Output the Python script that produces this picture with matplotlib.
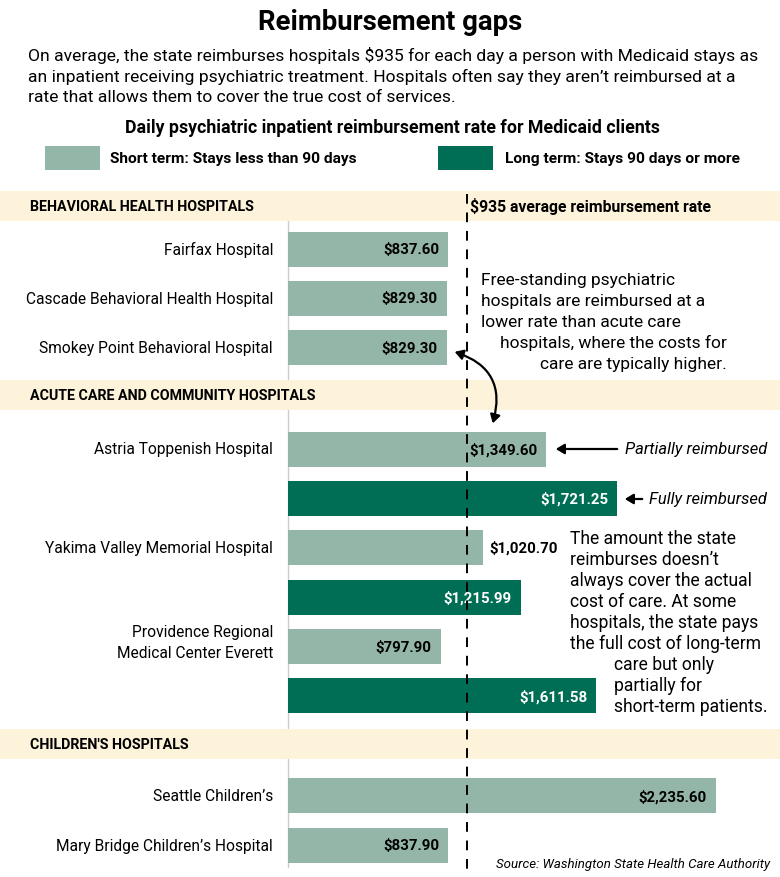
import matplotlib.pyplot as plt
from matplotlib.patches import FancyArrowPatch, Rectangle
from matplotlib.transforms import Affine2D

# data
hospitals = ['Fairfax Hospital', 'Cascade Behavioral Health Hospital',
             'Smokey Point Behavioral Hospital', 'Astria Toppenish Hospital',
             'Yakima Valley Memorial Hospital',
             'Providence Regional\nMedical Center Everett',
             'Seattle Children’s', 'Mary Bridge Children’s Hospital']
short_rate = [837.60, 829.30, 829.30, 1349.60, 1020.70, 797.90, 2235.60, 837.90]
long_rate = [None, None, None, 1721.25, 1215.99, 1611.58, None, None]
sections = ['BEHAVIORAL HEALTH HOSPITALS', 'ACUTE CARE AND COMMUNITY HOSPITALS',
            "CHILDREN'S HOSPITALS"]
section_size = [3, 3, 2]
average = 935

SHORT = '#94b6a8'
LONG = '#006e55'
BAND = '#fdf3da'
plt.rcParams['font.family'] = ['Roboto', 'DejaVu Sans']

W, H = 780, 878
fig = plt.figure(figsize=(W / 100, H / 100), dpi=100)
ax = fig.add_axes([0, 0, 1, 1])
x0, scale = 288, 0.1914  # pixel of $0, pixels per dollar
ax.set_xlim(-x0 / scale, (W - x0) / scale)
ax.set_ylim(H, 0)
ax.axis('off')
pix = Affine2D().scale(1 / W, -1 / H).translate(0, 1) + fig.transFigure
renderer = fig.canvas.get_renderer()


def fit(s, width, **kw):
    # font size that makes text s about `width` pixels wide
    t = fig.text(0, 0, s, fontsize=10, **kw)
    w = t.get_window_extent(renderer).width
    t.remove()
    return 10 * width / w


def put(x, y, s, size, **kw):
    kw.setdefault('va', 'center')
    return ax.text(x, y, s, transform=pix, fontsize=size, **kw)


# layout: band centres and first bar offset per section
band_y = [207, 396, 745]
first_gap = [43, 54, 52]
step = 49.4

short_y, long_y = [], []
k = 0
for s, n in enumerate(section_size):
    y = band_y[s] + first_gap[s]
    for i in range(n):
        short_y.append(y)
        if long_rate[k] is not None:
            long_y.append(y + step)
            y += step
        else:
            long_y.append(None)
        y += step
        k += 1

# baseline and bands
ax.plot([0, 0], [222, 868], color='#cccccc', lw=1, zorder=1)
band_fs = fit(sections[0], 225, fontweight='bold')
for s, name in enumerate(sections):
    ax.add_patch(Rectangle((0, band_y[s] - 15), W, 30, transform=pix,
                           color=BAND, zorder=2, lw=0))
    put(30, band_y[s], name, band_fs, fontweight='bold', ha='left', zorder=5)
avg_txt = '$935 average reimbursement rate'
put(470, band_y[0], avg_txt, fit(avg_txt, 242, fontweight='bold'),
    fontweight='bold', ha='left', zorder=5)

# bars
off = 9 / scale
val_fs = fit('$837.60', 56, fontweight='bold')
name_fs = fit(hospitals[1], 246)
outside = [False, False, False, False, True, False, False, False]
ax.barh(short_y, short_rate, height=35, color=SHORT, zorder=3)
for i, v in enumerate(short_rate):
    lbl = f'${v:,.2f}'
    if outside[i]:
        ax.text(v + 6 / scale, short_y[i], lbl, fontsize=val_fs, fontweight='bold',
                va='center', ha='left', zorder=4)
    else:
        ax.text(v - off, short_y[i], lbl, fontsize=val_fs, fontweight='bold',
                va='center', ha='right', zorder=4)
    name_y = short_y[i] - 5 if '\n' in hospitals[i] else short_y[i]
    put(273, name_y, hospitals[i], name_fs, ha='right', linespacing=1.5)
    if long_rate[i] is not None:
        ax.barh(long_y[i], long_rate[i], height=35, color=LONG, zorder=3)
        ax.text(long_rate[i] - off, long_y[i], f'${long_rate[i]:,.2f}',
                fontsize=val_fs, fontweight='bold', color='white',
                va='center', ha='right', zorder=4)

# average line
ax.plot([average, average], [195, H], color='black', lw=1.4,
        linestyle=(0, (5, 4.5)), zorder=6)

# header
title = 'Reimbursement gaps'
put(390, 22, title, fit(title, 264, fontweight='bold'), fontweight='bold',
    ha='center')
intro = ['On average, the state reimburses hospitals $935 for each day a person with Medicaid stays as',
         'an inpatient receiving psychiatric treatment. Hospitals often say they aren’t reimbursed at a',
         'rate that allows them to cover the true cost of services.']
intro_fs = fit(intro[0], 729)
for j, line in enumerate(intro):
    put(28, 55 + j * 21.5, line, intro_fs, ha='left')
sub = 'Daily psychiatric inpatient reimbursement rate for Medicaid clients'
put(392, 128, sub, fit(sub, 534, fontweight='bold'), fontweight='bold',
    ha='center')
leg_fs = fit('Short term: Stays less than 90 days', 247, fontweight='bold')
ax.add_patch(Rectangle((45, 147), 55, 24, transform=pix, color=SHORT, lw=0))
put(110, 159, 'Short term: Stays less than 90 days', leg_fs, fontweight='bold')
ax.add_patch(Rectangle((438, 147), 55, 24, transform=pix, color=LONG, lw=0))
put(505, 159, 'Long term: Stays 90 days or more', leg_fs, fontweight='bold')

# annotations
note1 = ['Free-standing psychiatric', 'hospitals are reimbursed at a',
         'lower rate than acute care', 'hospitals, where the costs for',
         'care are typically higher.']
note_fs = fit(note1[1], 226)
for j, line in enumerate(note1):
    if j < 3:
        put(481, 281 + j * 20.8, line, note_fs, ha='left')
    else:
        put(727, 281 + j * 20.8, line, note_fs, ha='right')

note2 = ['The amount the state', 'reimburses doesn’t', 'always cover the actual',
         'cost of care. At some', 'hospitals, the state pays',
         'the full cost of long-term', 'care but only', 'partially for',
         'short-term patients.']
note2_fs = min(fit(note2[5], 192), fit(note2[8], 154))
for j, line in enumerate(note2):
    put(570 if j < 6 else 614, 539 + j * 21, line, note2_fs, ha='left')

ax.add_patch(FancyArrowPatch((452, 352), (492, 427), transform=pix,
                             connectionstyle='arc3,rad=-0.5',
                             arrowstyle='<|-|>,head_length=5,head_width=3',
                             color='black', lw=1.6, zorder=7))
ax.add_patch(FancyArrowPatch((620, 450), (553, 450), transform=pix,
                             arrowstyle='-|>,head_length=5,head_width=3',
                             color='black', lw=1.6, zorder=7))
ax.add_patch(FancyArrowPatch((645, 500), (622, 500), transform=pix,
                             arrowstyle='-|>,head_length=5,head_width=3',
                             color='black', lw=1.6, zorder=7))
ital_fs = fit('Partially reimbursed', 142, style='italic')
put(767, 450, 'Partially reimbursed', ital_fs, style='italic', ha='right')
put(767, 500, 'Fully reimbursed', ital_fs, style='italic', ha='right')

src = 'Source: Washington State Health Care Authority'
put(770, 865, src, fit(src, 272, style='italic'), style='italic', ha='right')

fig.savefig('out.png', dpi=100)
